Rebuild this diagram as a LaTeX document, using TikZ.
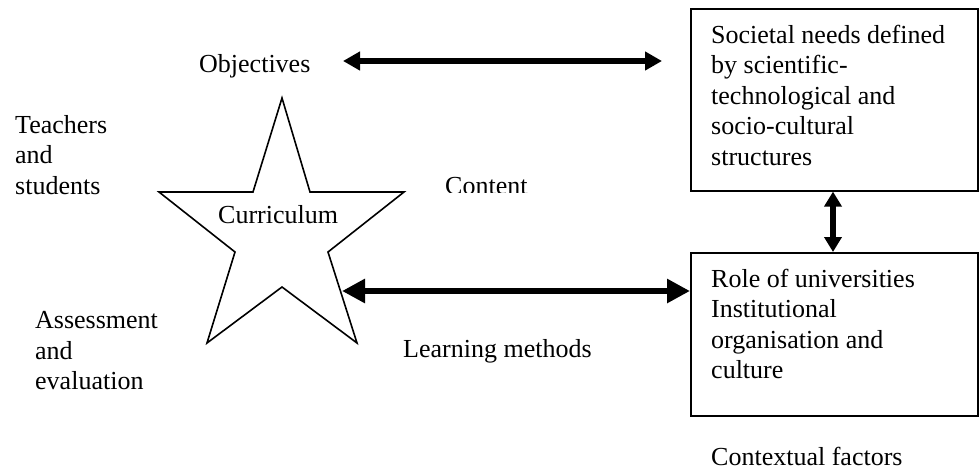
\documentclass[tikz,border=0pt]{standalone}
\usepackage{fontspec}
\setmainfont{Liberation Serif}
\usetikzlibrary{arrows.meta}
\begin{document}
\begin{tikzpicture}[x=1pt,y=-1pt,
  txt/.style={inner sep=0pt, anchor=base west, align=left, font=\fontsize{26}{30.5}\selectfont},
  box/.style={draw, line width=1.6pt, minimum width=287pt, anchor=north west, inner sep=0pt},
  toparrow/.style={line width=5.5pt, {Triangle[length=17pt,width=18pt]}-{Triangle[length=17pt,width=18pt]}},
  botarrow/.style={line width=6.5pt, {Triangle[length=23pt,width=23pt]}-{Triangle[length=23pt,width=23pt]}},
  vertarrow/.style={line width=6pt, {Triangle[length=15pt,width=17pt]}-{Triangle[length=15pt,width=17pt]}},
  starline/.style={draw, line width=1.6pt, line join=miter},
]
\useasboundingbox (0,0) rectangle (980,469);

% boxes
\node[box, minimum height=182pt] (sn) at (690,8) {};
\node[box, minimum height=163pt] (ru) at (690,252) {};

% star
\coordinate (st1) at (282,98);
\coordinate (st2) at (310,192);
\coordinate (st3) at (404,192);
\coordinate (st4) at (328,252);
\coordinate (st5) at (357,343);
\coordinate (st6) at (282,287);
\coordinate (st7) at (207,343);
\coordinate (st8) at (235,252);
\coordinate (st9) at (159,192);
\coordinate (st10) at (253,192);
\draw[starline] (st1) -- (st2) -- (st3) -- (st4) -- (st5) -- (st6) -- (st7) -- (st8) -- (st9) -- (st10) -- cycle;
\node[txt] (cur) at (218,223) {Curriculum};

% texts (multi-line nodes: base = baseline of last line)
\node[txt] (obj) at (199,72) {Objectives};
\node[txt] (ts) at (15,194) {Teachers\\and\\students};
\node[txt] (ae) at (35,389.5) {Assessment\\and\\evaluation};
\node[txt] (lm) at (403,357) {Learning methods};
\node[txt] (cf) at (711,465) {Contextual factors};
\begin{scope}
  \clip (430,150) rectangle (560,192.5);
  \node[txt] (con) at (445,194) {Content};
\end{scope}
\node[txt] (snt) at (711,165) {Societal needs defined\\by scientific-\\technological and\\socio-cultural\\structures};
\node[txt] (rut) at (711,378.5) {Role of universities\\Institutional\\organisation and\\culture};

% connectors
\coordinate (objR) at (343,61);
\coordinate (snL) at (662,61);
\draw[toparrow] (objR) -- (snL);
\coordinate (starE) at (342,291);
\draw[botarrow] (starE) -- (ru.west |- starE);
\draw[vertarrow] (sn.south -| 833,0) -- (ru.north -| 833,0);
\end{tikzpicture}
\end{document}
